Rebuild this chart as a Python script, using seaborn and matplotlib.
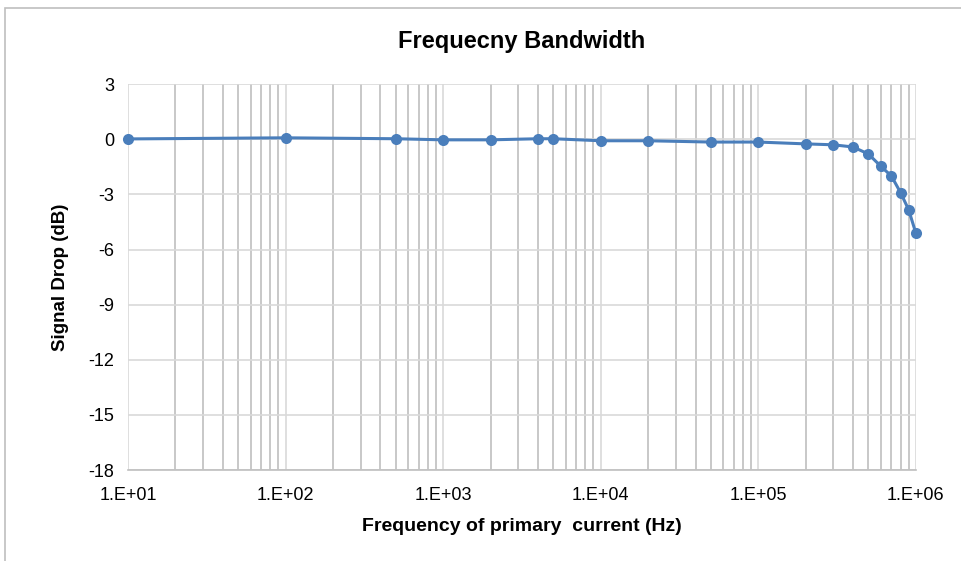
import numpy as np
import pandas as pd
import seaborn as sns
from matplotlib import pyplot as plt
from matplotlib.patches import Rectangle
from matplotlib.ticker import LogLocator, FixedLocator, FuncFormatter

# data
freq_hz = [10, 100, 500, 1000, 2000, 4000, 5000, 1e4, 2e4, 5e4, 1e5,
           2e5, 3e5, 4e5, 5e5, 6e5, 7e5, 8e5, 9e5, 1e6]
drop_db = [0.02, 0.08, 0.03, -0.03, -0.03, 0.03, 0.03, -0.08, -0.08, -0.15, -0.15,
           -0.25, -0.3, -0.42, -0.8, -1.47, -2.0, -2.9, -3.83, -5.1]
y_ticks = [3, 0, -3, -6, -9, -12, -15, -18]
x_ticks = [1e1, 1e2, 1e3, 1e4, 1e5, 1e6]

df = pd.DataFrame({'freq': freq_hz, 'drop': drop_db})

sns.set_style('white')
plt.rcParams['font.family'] = ['Liberation Sans', 'DejaVu Sans']
plt.rcParams['axes.unicode_minus'] = False
plt.rcParams['text.color'] = 'black'
plt.rcParams['axes.labelcolor'] = 'black'

fig = plt.figure(figsize=(9.62, 5.61), dpi=100)
ax = fig.add_axes([0.133, 0.162, 0.819, 0.688])

# chart area border like the spreadsheet frame
fig.patches.append(Rectangle((5 / 962, -0.1), 1.2, 1 - 8 / 561 + 0.1,
                             transform=fig.transFigure, fill=False,
                             edgecolor='#BFBFBF', linewidth=1.2))

sns.lineplot(data=df, x='freq', y='drop', ax=ax, color='#4A7EBB',
             linewidth=2.2, marker='o', markersize=8, markeredgewidth=0,
             clip_on=False)

ax.set_xscale('log')
ax.set_xlim(1e1, 1e6)
ax.set_ylim(-18, 3)

ax.xaxis.set_major_locator(FixedLocator(x_ticks))
ax.xaxis.set_minor_locator(LogLocator(base=10, subs=np.arange(2, 10)))
ax.xaxis.set_major_formatter(FuncFormatter(lambda v, p: f'1.E+{int(round(np.log10(v))):02d}'))
ax.xaxis.set_minor_formatter(FuncFormatter(lambda v, p: ''))
ax.yaxis.set_major_locator(FixedLocator(y_ticks))

ax.grid(which='major', axis='y', color='#D9D9D9', linewidth=1.2)
ax.grid(which='major', axis='x', color='#D9D9D9', linewidth=1.2)
ax.grid(which='minor', axis='x', color='#BFBFBF', linewidth=1.2)
ax.set_axisbelow(True)

for s in ['top', 'right', 'left']:
    ax.spines[s].set_visible(False)
ax.spines['bottom'].set_color('#BFBFBF')
ax.spines['bottom'].set_linewidth(1.2)

ax.tick_params(axis='both', which='both', length=0, labelsize=13, colors='black', pad=10)
ax.tick_params(axis='x', pad=12)

ax.set_xlabel('Frequency of primary  current (Hz)', fontsize=14, fontweight='bold', labelpad=10)
ax.set_ylabel('Signal Drop (dB)', fontsize=13.5, fontweight='bold', labelpad=14)
ax.set_title('Frequecny Bandwidth', fontsize=17, fontweight='bold', pad=26)

plt.savefig('out.png', dpi=100)
